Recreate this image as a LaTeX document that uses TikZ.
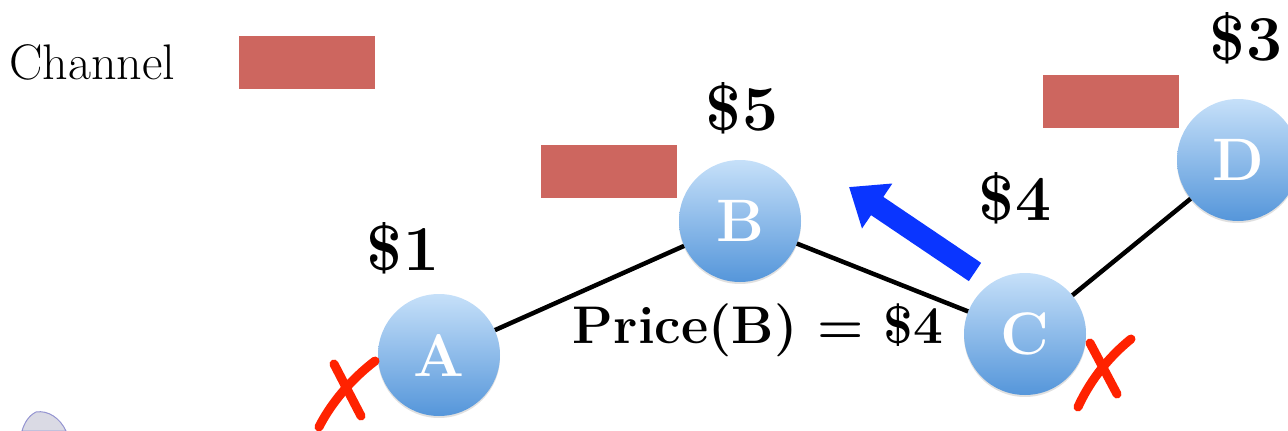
\documentclass[tikz,border=0pt]{standalone}
\usetikzlibrary{arrows.meta,shadows}
\definecolor{chan}{HTML}{CD665F}
\definecolor{ctop}{HTML}{C6E0F9}
\definecolor{cbot}{HTML}{5596DA}
\definecolor{arrblue}{HTML}{0A35FF}
\definecolor{xred}{HTML}{FF2200}
\tikzset{
  peer/.style={circle, minimum size=122pt, inner sep=0pt, top color=ctop, bottom color=cbot,
    text=white, font=\fontsize{60}{62}\selectfont\bfseries,
    drop shadow={shadow xshift=0pt, shadow yshift=-2pt, opacity=0.12, fill=black}},
  channel/.style={fill=chan, minimum width=136pt, minimum height=53pt, inner sep=0pt},
  price/.style={font=\fontsize{64}{66}\selectfont\bfseries},
  link/.style={line width=4.5pt},
  xmark/.style={draw=xred, line width=9pt, line cap=round},
}
\begin{document}
\begin{tikzpicture}[x=1pt,y=-1pt]
\useasboundingbox (0,0) rectangle (1288,431);
% faint logo fragment at bottom left
\begin{scope}
\clip (0,0) rectangle (1288,431);
\fill[blue!15!gray!25, draw=blue!40!gray!60, line width=1pt] (66,431) .. controls (60,418) and (48,410) .. (36,412) .. controls (28,416) and (24,424) .. (22,431) -- cycle;
\end{scope}
% legend
\node[anchor=west, font=\fontsize{50}{52}\selectfont] (leg) at (6,62) {Channel};
\node[channel] (chleg) at (306.5,62) {};
% channels
\node[channel] (chAB) at (609,171) {};
\node[channel] (chCD) at (1111,101.5) {};
% peers
\node[peer] (A) at (439,355) {A};
\node[peer] (B) at (740,221) {B};
\node[peer] (C) at (1025,334) {C};
\node[peer] (D) at (1238,160) {D};
% links
\draw[link] (A) -- (B);
\draw[link] (B) -- (C);
\draw[link] (C) -- (D);
% prices
\node[price] (pA) at (403,248) {\$1};
\node[price] (pB) at (742,108) {\$5};
\node[price] (pC) at (1015,198) {\$4};
\node[price] (pD) at (1246,38) {\$3};
\node[font=\fontsize{53}{56}\selectfont\bfseries] (pr) at (758,330) {Price(B) = \$4};
% blue arrow
\coordinate (as) at (975,272);
\coordinate (ae) at (849,187);
\draw[arrblue, line width=22pt, -{Triangle[width=52pt,length=34pt]}] (as) -- (ae);
% red crosses
\coordinate (xa1) at (375,361);
\coordinate (xa2) at (319,427);
\coordinate (xa3) at (334,364);
\coordinate (xa4) at (361,416);
\draw[xmark] (xa1) .. controls (350,380) and (330,405) .. (xa2);
\draw[xmark] (xa3) -- (xa4);
\coordinate (xc1) at (1131,339);
\coordinate (xc2) at (1078,407);
\coordinate (xc3) at (1090,343);
\coordinate (xc4) at (1117,394);
\draw[xmark] (xc1) .. controls (1105,360) and (1088,385) .. (xc2);
\draw[xmark] (xc3) -- (xc4);
\end{tikzpicture}
\end{document}
